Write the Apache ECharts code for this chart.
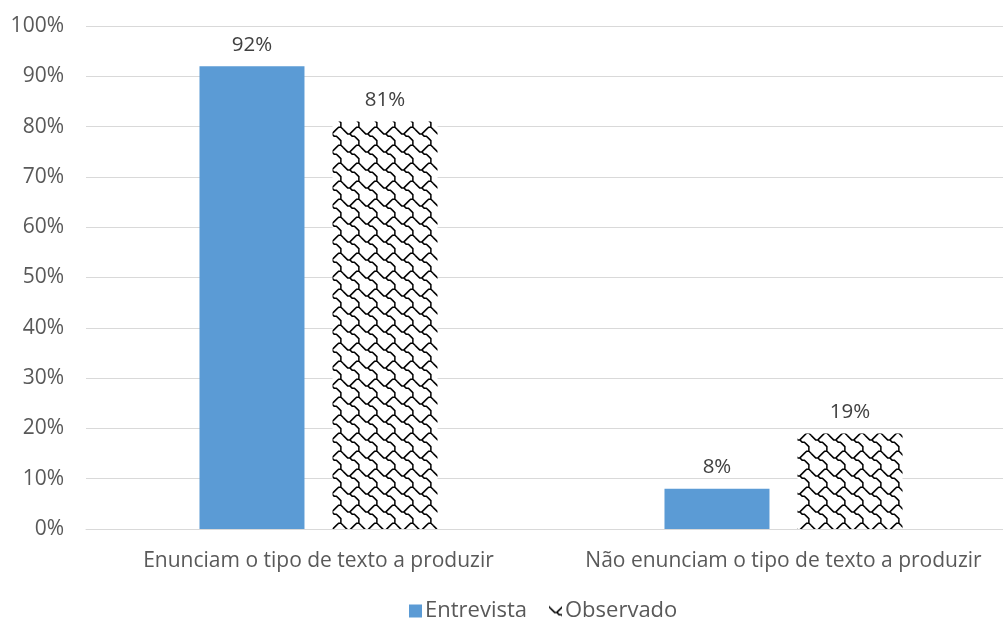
<!DOCTYPE html>
<html><head><meta charset="utf-8">
<script src="https://cdn.jsdelivr.net/npm/echarts@6/dist/echarts.min.js"></script>
<style>html,body{margin:0;padding:0;background:#fff}#c{width:1003px;height:619px}</style>
</head><body><div id="c"></div>
<script>
const categories = ['Enunciam o tipo de texto a produzir', 'Não enunciam o tipo de texto a produzir'];
const entrevista = [0.92, 0.08];
const observado = [0.81, 0.19];
const yTicks = [0, 0.1, 0.2, 0.3, 0.4, 0.5, 0.6, 0.7, 0.8, 0.9, 1.0];

function shinglePattern() {
  const s = 2.25, size = 18;
  const c = document.createElement('canvas');
  c.width = size; c.height = size;
  const g = c.getContext('2d');
  g.fillStyle = '#fff'; g.fillRect(0, 0, size, size);
  g.strokeStyle = '#000'; g.lineWidth = 1.5; g.lineJoin = 'miter';
  const main = [[0,1],[1,2],[2,3],[3,3],[4,4],[5,4],[6,5],[7,6],[7,7],[7,8],[8,9]];
  const branch = [[7,0],[6,0],[5,1],[4,2],[3,3]];
  for (const dx of [-8, 0, 8]) for (const dy of [-8, 0, 8]) {
    for (const pl of [main, branch]) {
      g.beginPath();
      pl.forEach(([cx, cy], i) => {
        const x = (cx + 0.5 + dx) * s, y = (cy + 0.5 + dy) * s;
        i ? g.lineTo(x, y) : g.moveTo(x, y);
      });
      g.stroke();
    }
  }
  return { image: c, repeat: 'repeat' };
}

const chart = echarts.init(document.getElementById('c'));
const font = '"Open Sans", "Noto Sans", sans-serif';
const pat = shinglePattern();
const pct = p => Math.round(p.value * 100) + '%';
chart.setOption({
  animation: false,
  textStyle: { fontFamily: font },
  grid: { left: 86, top: 26, right: -13, bottom: 90, containLabel: false, outerBoundsMode: 'none' },
  legend: {
    top: 595, left: 404,
    itemWidth: 13, itemHeight: 13, itemGap: 22,
    icon: 'rect',
    textStyle: { fontSize: 22, color: '#595959', fontFamily: font, padding: [0, 0, 0, -2] },
    data: ['Entrevista', 'Observado']
  },
  xAxis: {
    type: 'category', data: categories,
    axisLine: { lineStyle: { color: '#d9d9d9' } },
    axisTick: { show: false },
    axisLabel: { fontSize: 21, color: '#595959', margin: 22, fontFamily: font, interval: 0, hideOverlap: false }
  },
  yAxis: {
    type: 'value', min: 0, max: 1, interval: 0.1,
    axisLine: { show: false }, axisTick: { show: false },
    splitLine: { lineStyle: { color: '#d9d9d9', width: 1 } },
    axisLabel: {
      fontSize: 21, color: '#595959', margin: 22, fontFamily: font,
      formatter: v => Math.round(v * 100) + '%'
    }
  },
  series: [
    {
      name: 'Entrevista', type: 'bar', data: entrevista,
      barWidth: 105, barGap: '26.7%',
      itemStyle: { color: '#5b9bd5' },
      label: { show: true, position: 'top', distance: 11, fontSize: 20.5, color: '#404040', fontFamily: font, formatter: pct }
    },
    {
      name: 'Observado', type: 'bar', data: observado,
      barWidth: 105,
      itemStyle: { color: pat },
      label: { show: true, position: 'top', distance: 11, fontSize: 20.5, color: '#404040', fontFamily: font, formatter: pct }
    }
  ]
});
</script></body></html>
